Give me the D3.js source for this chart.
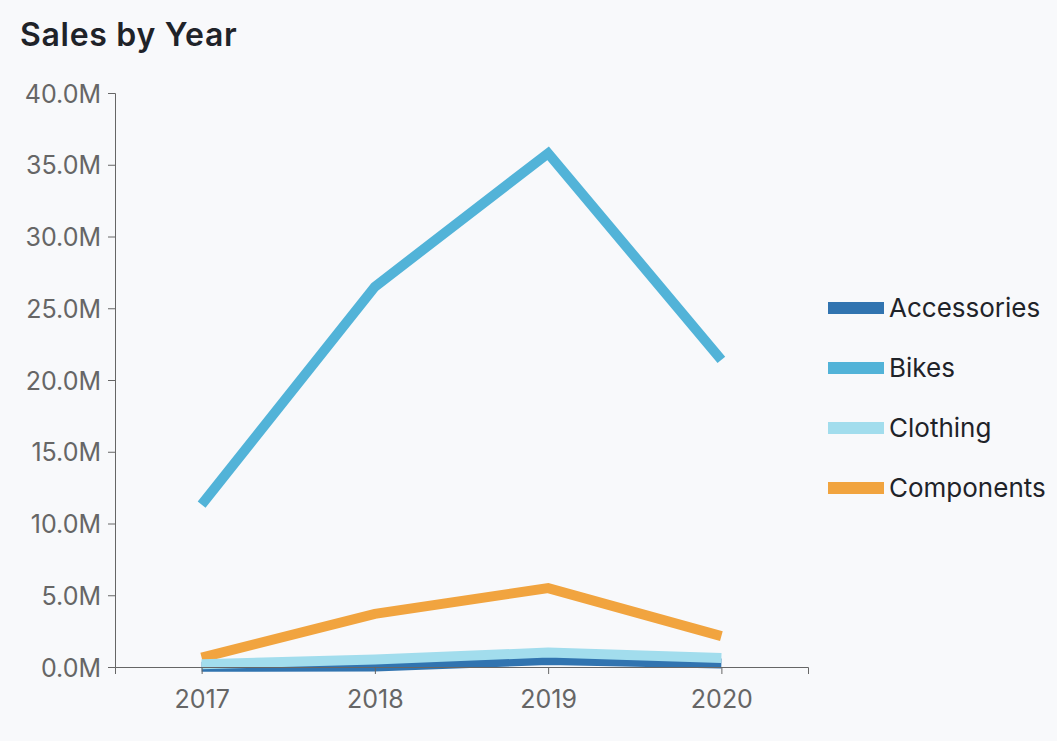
<!DOCTYPE html>
<html>
<head>
<meta charset="utf-8">
<script src="https://cdn.jsdelivr.net/npm/d3@7"></script>
<style>
  body { margin: 0; background: #f8f9fb; }
  svg { display: block; }
  .axis text { font-family: Inter, "Noto Sans", sans-serif; font-size: 25px; fill: #666; }
  .axis path, .axis line { stroke: #666; }
</style>
</head>
<body>
<div id="chart"></div>
<script>
// data (values in dollars)
var years = ["2017", "2018", "2019", "2020"];
var categories = ["Accessories", "Bikes", "Clothing", "Components"];
var accessories = [20000, 30000, 490000, 250000];
var bikes = [11320000, 26500000, 35800000, 21400000];
var clothing = [200000, 520000, 1010000, 630000];
var components = [660000, 3700000, 5500000, 2150000];
var yTicks = [0, 5e6, 10e6, 15e6, 20e6, 25e6, 30e6, 35e6, 40e6];
var colors = ["#3174b0", "#52b3d8", "#a2dded", "#f1a43f"];

var seriesList = [
  {name: "Accessories", values: accessories},
  {name: "Bikes", values: bikes},
  {name: "Clothing", values: clothing},
  {name: "Components", values: components}
];
// drawing order seen in the picture: bikes, components, accessories, clothing on top
var drawOrder = ["Bikes", "Components", "Accessories", "Clothing"];

var W = 1057, H = 741;
var margin = {top: 93, right: 249, bottom: 74, left: 115};
var width = W - margin.left - margin.right;
var height = H - margin.top - margin.bottom;

var svg = d3.select("#chart").append("svg")
    .attr("width", W)
    .attr("height", H);

svg.append("rect").attr("width", W).attr("height", H).attr("fill", "#f8f9fb");

//title
svg.append("text")
    .text("Sales by Year")
    .attr("x", 20)
    .attr("y", 46)
    .attr("fill", "#1f2329")
    .style("font-family", "Inter, 'Open Sans', sans-serif")
    .style("font-weight", 600)
    .style("font-size", "32px")
    .style("letter-spacing", "0.7px");

var g = svg.append("g")
    .attr("transform", "translate(" + margin.left + "," + margin.top + ")");

var x = d3.scalePoint()
    .domain(years)
    .range([0, width])
    .padding(0.5);

var y = d3.scaleLinear()
    .domain([0, 40e6])
    .range([height, 0]);

var color = d3.scaleOrdinal()
    .domain(categories)
    .range(colors);

var line = d3.line()
    .x(function (d, i) { return x(years[i]); })
    .y(function (d) { return y(d); });

var ordered = drawOrder.map(function (n) {
  return seriesList.find(function (s) { return s.name == n; });
});

g.selectAll("path.series")
    .data(ordered)
    .enter()
    .append("path")
    .attr("class", "series")
    .attr("d", function (d) { return line(d.values); })
    .attr("fill", "none")
    .attr("stroke", function (d) { return color(d.name); })
    .attr("stroke-width", 10)
    .attr("stroke-linejoin", "miter");

// axes drawn over the lines
var xAxis = d3.axisBottom(x).tickSize(7).tickPadding(16);
var yAxis = d3.axisLeft(y).tickValues(yTicks).tickSize(7).tickPadding(7)
    .tickFormat(function (d) { return d3.format(".1f")(d / 1e6) + "M"; });

g.append("g")
    .attr("class", "x-axis axis")
    .attr("transform", "translate(0," + height + ")")
    .call(xAxis);

g.append("g")
    .attr("class", "y-axis axis")
    .call(yAxis);

g.selectAll(".y-axis text").attr("dy", "0.36em");

//legend
var legend = svg.append("g")
    .attr("transform", "translate(828,308)");

var item = legend.selectAll("g.item")
    .data(categories)
    .enter()
    .append("g")
    .attr("class", "item")
    .attr("transform", function (d, i) { return "translate(0," + i * 60 + ")"; });

item.append("rect")
    .attr("x", 0)
    .attr("y", -6)
    .attr("width", 56)
    .attr("height", 12)
    .attr("fill", function (d) { return color(d); });

item.append("text")
    .text(function (d) { return d; })
    .attr("x", 61)
    .attr("dy", "0.36em")
    .attr("fill", "#1f2329")
    .style("font-family", "Inter, 'Noto Sans', sans-serif")
    .style("font-size", "26px");
</script>
</body>
</html>
